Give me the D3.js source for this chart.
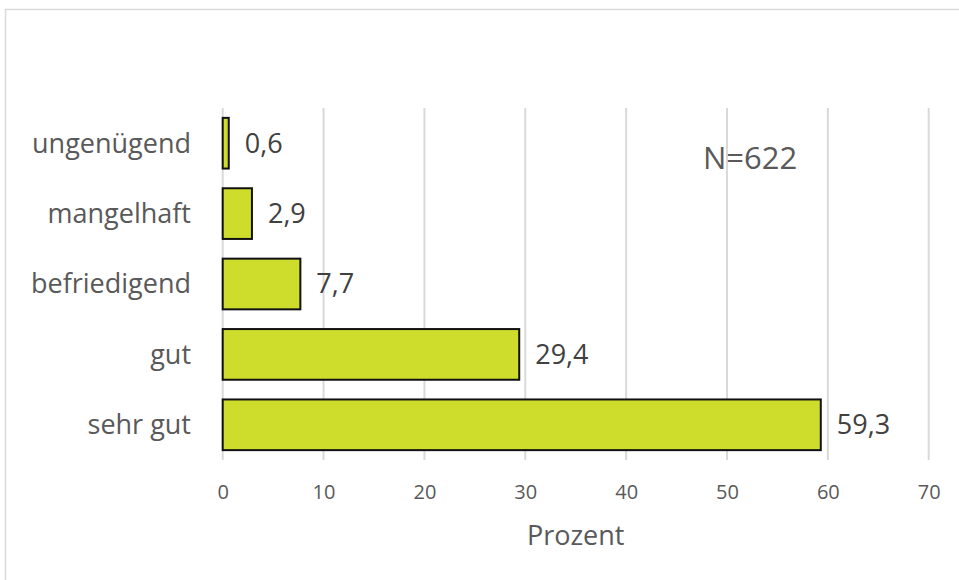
<!DOCTYPE html>
<html>
<head>
<meta charset="utf-8">
<script src="https://cdn.jsdelivr.net/npm/d3@7"></script>
<style>
  html, body { margin: 0; padding: 0; background: #fff; }
  svg { display: block; font-family: "Open Sans", sans-serif; }
</style>
</head>
<body>
<svg id="chart" width="959" height="580"></svg>
<script>
// Ratings, top to bottom, and their share in percent
const categories = ["ungenügend", "mangelhaft", "befriedigend", "gut", "sehr gut"];
const values = [0.6, 2.9, 7.7, 29.4, 59.3];
const xTicks = [0, 10, 20, 30, 40, 50, 60, 70];
const axisTitle = "Prozent";
const sampleNote = "N=622";

const svg = d3.select("#chart");
const plot = { left: 222.7, right: 928.7, top: 108, bottom: 460 };

// outer frame (runs past the right and bottom edges)
svg.append("rect")
  .attr("x", 5.5).attr("y", 9.5)
  .attr("width", 1200).attr("height", 1200)
  .attr("fill", "none").attr("stroke", "#d9d9d9").attr("stroke-width", 1.5);

const x = d3.scaleLinear().domain([0, 70]).range([plot.left, plot.right]);
const y = d3.scaleBand().domain(categories)
  .range([plot.top, plot.bottom]).paddingInner(0.28).paddingOuter(0.14);

// vertical gridlines
svg.append("g").selectAll("line").data(xTicks).join("line")
  .attr("x1", d => x(d)).attr("x2", d => x(d))
  .attr("y1", plot.top).attr("y2", plot.bottom)
  .attr("stroke", "#d9d9d9").attr("stroke-width", 2);

// x axis tick labels
const xAxis = d3.axisBottom(x).tickValues(xTicks).tickSize(0).tickPadding(0)
  .tickFormat(d3.format("d"));
svg.append("g").attr("transform", `translate(0,${plot.bottom})`).call(xAxis)
  .call(g => g.select(".domain").remove())
  .call(g => g.selectAll("text")
    .attr("y", 32).attr("dy", "0.35em")
    .attr("fill", "#595959").attr("font-size", 20)
    .attr("font-family", "Open Sans, sans-serif"));

// y axis category labels
const yAxis = d3.axisLeft(y).tickSize(0).tickPadding(0);
svg.append("g").attr("transform", `translate(191,0)`).call(yAxis)
  .call(g => g.select(".domain").remove())
  .call(g => g.selectAll("text")
    .attr("x", 0).attr("dy", "0.35em")
    .attr("fill", "#595959").attr("font-size", 27)
    .attr("font-family", "Open Sans, sans-serif"));

// bars
const rows = categories.map((c, i) => ({ cat: c, val: values[i] }));
svg.append("g").selectAll("rect").data(rows).join("rect")
  .attr("x", x(0))
  .attr("y", d => y(d.cat))
  .attr("width", d => x(d.val) - x(0))
  .attr("height", y.bandwidth())
  .attr("fill", "#cedc2b")
  .attr("stroke", "#111").attr("stroke-width", 2);

// value labels
svg.append("g").selectAll("text").data(rows).join("text")
  .attr("x", d => x(d.val) + 16)
  .attr("y", d => y(d.cat) + y.bandwidth() / 2)
  .attr("dy", "0.35em")
  .attr("fill", "#404040").attr("font-size", 27)
  .text(d => d3.format(".1f")(d.val).replace(".", ","));

// axis title
svg.append("text")
  .attr("x", (plot.left + plot.right) / 2).attr("y", 545)
  .attr("text-anchor", "middle")
  .attr("fill", "#595959").attr("font-size", 27)
  .text(axisTitle);

// sample size note
svg.append("text")
  .attr("x", 703).attr("y", 169)
  .attr("fill", "#595959").attr("font-size", 31)
  .text(sampleNote);
</script>
</body>
</html>
